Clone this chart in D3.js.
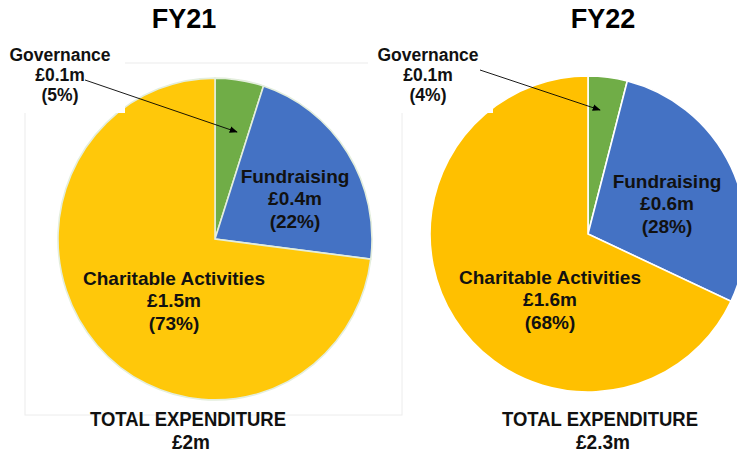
<!DOCTYPE html>
<html>
<head>
<meta charset="utf-8">
<style>
  body { margin: 0; background: #fff; }
  svg { display: block; font-family: "Liberation Sans", Arial, sans-serif; }
  .title { font-size: 27px; font-weight: bold; text-anchor: middle; }
  .lbl { font-size: 19px; font-weight: bold; text-anchor: middle; fill: #111; }
  .gov { font-size: 17.5px; font-weight: bold; text-anchor: middle; fill: #111; }
  .total { font-size: 21px; font-weight: bold; text-anchor: middle; fill: #111; }
</style>
<script src="https://d3js.org/d3.v7.min.js"></script>
</head>
<body>
<script>
// data
var years = ["FY21", "FY22"];
var categories = ["Governance", "Fundraising", "Charitable Activities"];
var amountsFY21 = ["£0.1m", "£0.4m", "£1.5m"];
var sharesFY21 = [5, 22, 73];
var amountsFY22 = ["£0.1m", "£0.6m", "£1.6m"];
var sharesFY22 = [4, 28, 68];
var totals = ["£2m", "£2.3m"];

var width = 737, height = 456;

// layout for each pie (positions / styles only)
var pies = [
  { year: years[0], shares: sharesFY21, amounts: amountsFY21, total: totals[0],
    cx: 215, cy: 239, r: 157, sy: 1.025, titleX: 184, totalX: 188, totalW: 38,
    colors: ["#70AD47", "#4472C4", "#FFC80A"], stroke: "#e4eedd",
    govX: 60, arrow: [[85, 80], [237, 132]],
    labelOff: [null, [80, -34], [-41, 68]] },
  { year: years[1], shares: sharesFY22, amounts: amountsFY22, total: totals[1],
    cx: 588, cy: 234, r: 158, sy: 1, titleX: 603, totalX: 600, totalW: 54,
    colors: ["#70AD47", "#4472C4", "#FFC000"], stroke: "#ffffff",
    govX: 428, arrow: [[480, 70], [600, 110]],
    labelOff: [null, [79, -24], [-38, 72]] }
];

var svg = d3.select("body").append("svg")
  .attr("width", width).attr("height", height);

svg.append("defs").append("marker")
  .attr("id", "arr").attr("viewBox", "0 0 10 10")
  .attr("refX", 9).attr("refY", 5)
  .attr("markerWidth", 9).attr("markerHeight", 9)
  .attr("orient", "auto")
  .append("path").attr("d", "M0,1 L10,5 L0,9 Z").attr("fill", "#000");

// faint chart frame from the FY21 picture
svg.append("rect")
  .attr("x", 25).attr("y", 63).attr("width", 377).attr("height", 352)
  .attr("fill", "none").attr("stroke", "#ececec").attr("stroke-width", 1);

var pie = d3.pie().sort(null).value(function(d) { return d; });

pies.forEach(function(p) {
  var arc = d3.arc().innerRadius(0).outerRadius(p.r);
  var arcs = pie(p.shares);

  svg.append("g")
    .attr("transform", "translate(" + p.cx + "," + p.cy + ") scale(1," + p.sy + ")")
    .selectAll("path")
    .data(arcs)
    .enter()
    .append("path")
      .attr("d", arc)
      .attr("fill", function(d, i) { return p.colors[i]; })
      .attr("stroke", p.stroke)
      .attr("stroke-width", 1.6);
});

pies.forEach(function(p) {
  // white box behind the governance callout
  svg.append("rect")
    .attr("x", p.govX - 60).attr("y", 40).attr("width", 125).attr("height", 73)
    .attr("fill", "#fff");

  svg.append("text").attr("class", "title")
    .attr("x", p.titleX).attr("y", 28).text(p.year);

  var govLines = [categories[0], p.amounts[0], "(" + p.shares[0] + "%)"];
  svg.append("g").selectAll("text")
    .data(govLines).enter().append("text")
      .attr("class", "gov")
      .attr("x", p.govX)
      .attr("y", function(d, i) { return 61 + i * 20; })
      .text(function(d) { return d; });

  svg.append("line")
    .attr("x1", p.arrow[0][0]).attr("y1", p.arrow[0][1])
    .attr("x2", p.arrow[1][0]).attr("y2", p.arrow[1][1])
    .attr("stroke", "#000").attr("stroke-width", 0.9)
    .attr("marker-end", "url(#arr)");

  [1, 2].forEach(function(k) {
    var lines = [categories[k], p.amounts[k], "(" + p.shares[k] + "%)"];
    var ox = p.cx + p.labelOff[k][0], oy = p.cy + p.labelOff[k][1];
    svg.append("g").selectAll("text")
      .data(lines).enter().append("text")
        .attr("class", "lbl")
        .attr("x", ox)
        .attr("y", function(d, i) { return oy + (i - 1) * 22.5; })
        .text(function(d) { return d; });
  });

  // condensed look of the total captions
  svg.append("text").attr("class", "total")
    .attr("x", p.totalX).attr("y", 426)
    .attr("textLength", 196).attr("lengthAdjust", "spacingAndGlyphs")
    .text("TOTAL EXPENDITURE");
  svg.append("text").attr("class", "total")
    .attr("x", p.totalX + 3).attr("y", 449)
    .attr("textLength", p.totalW).attr("lengthAdjust", "spacingAndGlyphs")
    .text(p.total);
});
</script>
</body>
</html>
